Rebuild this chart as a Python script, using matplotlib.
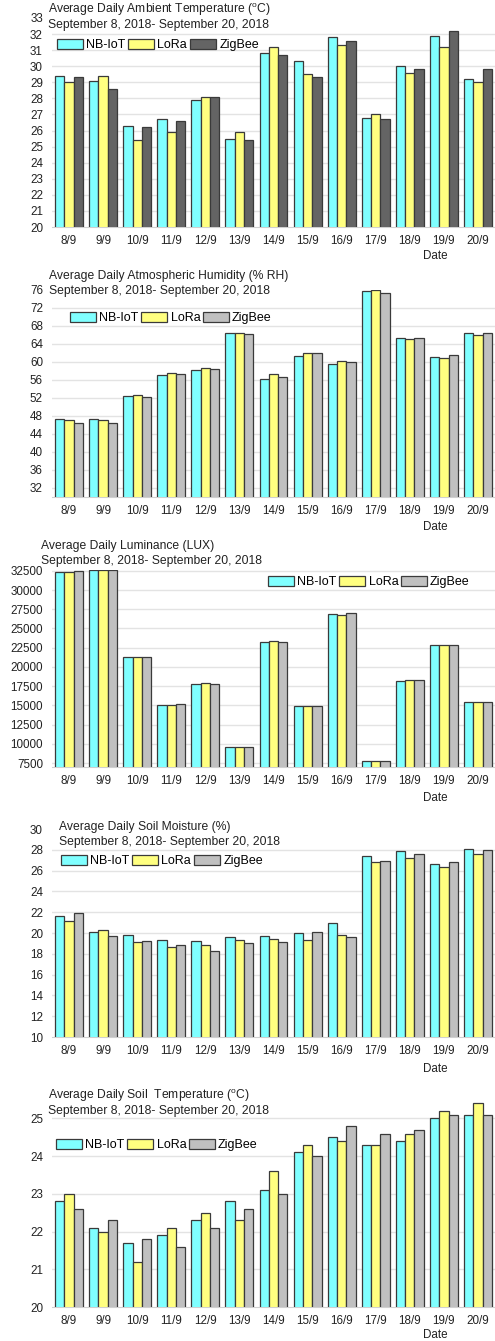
import matplotlib
matplotlib.use("Agg")
import matplotlib.pyplot as plt
import numpy as np

plt.rcParams['font.family'] = ['Liberation Sans', 'DejaVu Sans']

W, H = 495, 1341

dates = ["8/9", "9/9", "10/9", "11/9", "12/9", "13/9", "14/9",
         "15/9", "16/9", "17/9", "18/9", "19/9", "20/9"]
series_names = ["NB-IoT", "LoRa", "ZigBee"]
period = "September 8, 2018- September 20, 2018"

# ambient temperature (C)
amb_nbiot = [29.4, 29.1, 26.3, 26.7, 27.9, 25.5, 30.8, 30.3, 31.8, 26.8, 30.0, 31.9, 29.2]
amb_lora = [29.0, 29.4, 25.4, 25.9, 28.1, 25.9, 31.2, 29.5, 31.3, 27.0, 29.6, 31.2, 29.0]
amb_zigbee = [29.3, 28.6, 26.2, 26.6, 28.1, 25.4, 30.7, 29.3, 31.6, 26.7, 29.8, 32.2, 29.8]

# atmospheric humidity (% RH)
hum_nbiot = [47.3, 47.2, 52.4, 57.0, 58.1, 66.4, 56.1, 61.3, 59.5, 75.6, 65.3, 61.1, 66.4]
hum_lora = [47.0, 47.0, 52.6, 57.6, 58.6, 66.3, 57.2, 61.9, 60.1, 75.9, 65.0, 60.9, 66.0]
hum_zigbee = [46.5, 46.3, 52.1, 57.3, 58.4, 66.1, 56.7, 61.9, 59.9, 75.3, 65.3, 61.4, 66.4]

# luminance (LUX)
lux_nbiot = [32370, 32540, 21235, 15080, 17810, 9580, 23190, 14950, 26910, 7800, 18200, 22880, 15470]
lux_lora = [32330, 32540, 21280, 15080, 17900, 9580, 23310, 14950, 26780, 7720, 18290, 22800, 15430]
lux_zigbee = [32460, 32540, 21235, 15170, 17810, 9620, 23230, 14950, 26950, 7800, 18245, 22880, 15470]

# soil moisture (%)
soil_nbiot = [21.6, 20.1, 19.8, 19.3, 19.2, 19.6, 19.7, 20.0, 21.0, 27.4, 27.9, 26.6, 28.1]
soil_lora = [21.2, 20.3, 19.1, 18.7, 18.8, 19.3, 19.4, 19.3, 19.8, 26.8, 27.2, 26.3, 27.6]
soil_zigbee = [21.9, 19.7, 19.2, 18.8, 18.3, 19.0, 19.1, 20.1, 19.6, 26.9, 27.6, 26.8, 28.0]

# soil temperature (C)
stemp_nbiot = [22.8, 22.1, 21.7, 21.9, 22.3, 22.8, 23.1, 24.1, 24.5, 24.3, 24.4, 25.0, 25.1]
stemp_lora = [23.0, 22.0, 21.2, 22.1, 22.5, 22.3, 23.6, 24.3, 24.4, 24.3, 24.6, 25.2, 25.4]
stemp_zigbee = [22.6, 22.3, 21.8, 21.6, 22.1, 22.6, 23.0, 24.0, 24.8, 24.6, 24.7, 25.1, 25.1]

deg = "($^\\mathregular{o}$C)"

fig = plt.figure(figsize=(W / 100, H / 100), dpi=100)


def fx(px):
    return px / W


def fy(py):
    return 1 - py / H


def draw_panel(top_px, bot_px, values, colors, ylim, yticks, titles, title_pos,
               legend_pos, date_y):
    ax = fig.add_axes([fx(52), fy(bot_px), fx(W) - fx(52), (bot_px - top_px) / H])
    x = np.arange(len(dates))
    width = 0.273
    for i, (vals, col) in enumerate(zip(values, colors)):
        ax.bar(x + (i - 1) * width, vals, width, color=col, edgecolor='#3a3a3a',
               linewidth=0.9, label=series_names[i], zorder=3)
    ax.set_xlim(-0.5, len(dates) - 0.5)
    ax.set_ylim(*ylim)
    ax.set_yticks(yticks)
    ax.set_yticklabels([str(t) for t in yticks])
    # light horizontal grid, skipping a line that would sit on the top edge
    for t in yticks:
        if t < ylim[1] and t > ylim[0]:
            ax.axhline(t, color='#e3e3e3', linewidth=1.0, zorder=0)
    ax.set_xticks(x)
    ax.set_xticklabels(dates)
    ax.tick_params(axis='y', length=0, pad=6.5, labelsize=8.4, colors='#222222')
    ax.tick_params(axis='x', length=0, pad=6, labelsize=8.4, colors='#222222')
    for s in ['top', 'right', 'left']:
        ax.spines[s].set_visible(False)
    ax.spines['bottom'].set_color('#d0d0d0')
    ax.set_facecolor('none')

    fig.text(fx(title_pos[0]), fy(title_pos[1]), titles[0], fontsize=8.7,
             va='center', ha='left', color='#222222')
    fig.text(fx(title_pos[0]), fy(title_pos[1] + 15), titles[1], fontsize=8.7,
             va='center', ha='left', color='#222222')
    fig.text(fx(435), fy(date_y), "Date", fontsize=8.4, va='center', ha='center',
             color='#222222')

    ax.legend(loc='center left', bbox_to_anchor=(fx(legend_pos[0]), fy(legend_pos[1])),
              bbox_transform=fig.transFigure, ncol=3, frameon=False, fontsize=9,
              borderpad=0, borderaxespad=0, handlelength=2.1, handleheight=0.8,
              handletextpad=0.25, columnspacing=0.2)
    return ax


cyan = '#80ffff'
yellow = '#ffff80'

draw_panel(18, 227, [amb_nbiot, amb_lora, amb_zigbee], [cyan, yellow, '#646464'],
           (20, 33), list(range(20, 34)),
           ["Average Daily Ambient Temperature " + deg, period],
           (48, 10), (57, 45), 256)

draw_panel(289.5, 497, [hum_nbiot, hum_lora, hum_zigbee], [cyan, yellow, '#c0c0c0'],
           (30, 76), list(range(32, 77, 4)),
           ["Average Daily Atmospheric Humidity (% RH)", period],
           (49, 276), (70, 318), 527)

draw_panel(570, 767, [lux_nbiot, lux_lora, lux_zigbee], [cyan, yellow, '#c0c0c0'],
           (7000, 32600), list(range(7500, 32501, 2500)),
           ["Average Daily Luminance (LUX)", period],
           (41, 546), (268, 582), 798)

draw_panel(829, 1037, [soil_nbiot, soil_lora, soil_zigbee], [cyan, yellow, '#c0c0c0'],
           (10, 30), list(range(10, 31, 2)),
           ["Average Daily Soil Moisture (%)", period],
           (59, 827), (61, 861), 1069)

draw_panel(1101.5, 1307, [stemp_nbiot, stemp_lora, stemp_zigbee], [cyan, yellow, '#c0c0c0'],
           (20, 25.45), list(range(20, 26)),
           ["Average Daily Soil  Temperature " + deg, period],
           (48, 1096), (56, 1145), 1335)

fig.savefig("out.png", dpi=100)
